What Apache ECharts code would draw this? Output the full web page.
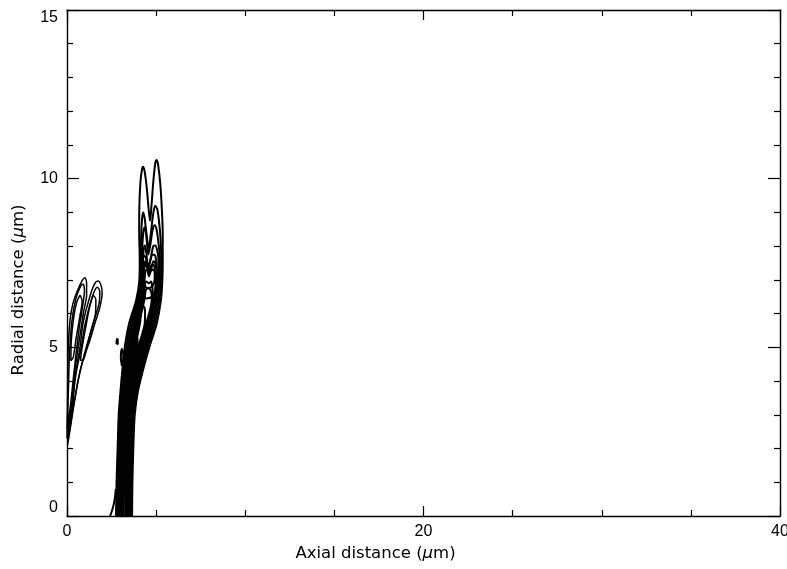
<!DOCTYPE html>
<html>
<head>
<meta charset="utf-8">
<script src="https://cdn.jsdelivr.net/npm/echarts@6/dist/echarts.min.js"></script>
<style>
  html, body { margin: 0; padding: 0; background: #ffffff; }
  #chart { width: 787px; height: 569px; }
</style>
</head>
<body>
<div id="chart"></div>
<script>
// Axis extents and tick steps (µm)
const xRange = [0, 40];
const yRange = [0, 15];
const xMajorStep = 20;
const yMajorStep = 5;
const xName = 'Axial distance ({mu|μ}m)';
const yName = 'Radial distance ({mu|μ}m)';

// Radial heights at which the flanks of the main jet contours are sampled
const jetHeights = [0, 1, 2, 3, 3.7, 4.3, 5.0, 5.7, 6.4, 7.0, 7.6];

// Main jet, outermost level first.
// left/right = axial position of each flank at jetHeights; crown = points across the top
const jetLeft1  = [2.75, 2.78, 2.84, 2.90, 3.00, 3.10, 3.24, 3.48, 3.88, 4.06, 4.08];
const jetRight1 = [3.65, 3.67, 3.72, 3.80, 3.98, 4.25, 4.62, 5.03, 5.27, 5.35, 5.37];
const jetCrown1 = [[4.05, 8.4], [4.06, 9.2], [4.12, 9.9], [4.2, 10.25], [4.27, 10.35], [4.36, 10.2],
                   [4.48, 9.7], [4.58, 9.1], [4.66, 8.75], [4.74, 9.2], [4.84, 9.9], [4.95, 10.45],
                   [5.03, 10.55], [5.12, 10.38], [5.24, 9.8], [5.32, 9.1], [5.37, 8.4]];

const jetLeft2  = [2.80, 2.83, 2.89, 2.96, 3.06, 3.17, 3.32, 3.57, 3.96, 4.12, 4.14];
const jetRight2 = [3.61, 3.63, 3.68, 3.75, 3.92, 4.17, 4.53, 4.93, 5.18, 5.27, 5.29];
const jetCrown2 = [[4.16, 8.3], [4.21, 8.8], [4.27, 9.0], [4.35, 8.85], [4.45, 8.4], [4.58, 7.95],
                   [4.7, 8.35], [4.82, 8.9], [4.95, 9.2], [5.06, 9.1], [5.16, 8.75], [5.25, 8.2]];

const jetLeft3  = [2.85, 2.88, 2.94, 3.02, 3.12, 3.24, 3.40, 3.66, 4.03, 4.17, 4.20];
const jetRight3 = [3.57, 3.59, 3.64, 3.70, 3.86, 4.10, 4.45, 4.84, 5.09, 5.19, 5.21];
const jetCrown3 = [[4.23, 8.05], [4.29, 8.45], [4.36, 8.55], [4.45, 8.3], [4.56, 7.75], [4.68, 8.05],
                   [4.81, 8.5], [4.92, 8.62], [5.03, 8.48], [5.14, 8.05]];

const jetLeft4  = [2.90, 2.93, 2.99, 3.07, 3.18, 3.31, 3.48, 3.75, 4.10, 4.23, 4.27];
const jetRight4 = [3.53, 3.55, 3.60, 3.66, 3.81, 4.03, 4.37, 4.75, 5.00, 5.11, 5.13];
const jetCrown4 = [[4.3, 7.9], [4.37, 8.02], [4.45, 7.8], [4.56, 7.35], [4.7, 7.65], [4.84, 8.0],
                   [4.95, 8.02], [5.07, 7.85]];

const jetLeft5  = [2.95, 2.98, 3.04, 3.12, 3.23, 3.37, 3.55, 3.81, 4.16, 4.29];
const jetRight5 = [3.48, 3.50, 3.55, 3.61, 3.75, 3.96, 4.29, 4.67, 4.93, 5.04];
const jetCrown5 = [[4.33, 7.4], [4.4, 7.55], [4.5, 7.35], [4.6, 7.1], [4.72, 7.3], [4.85, 7.55],
                   [4.95, 7.5], [5.02, 7.3]];

const jetLeft6  = [2.99, 3.02, 3.08, 3.16, 3.28, 3.43, 3.62, 3.88, 4.22, 4.35];
const jetRight6 = [3.44, 3.46, 3.51, 3.57, 3.70, 3.90, 4.21, 4.59, 4.87, 4.98];
const jetCrown6 = [[4.4, 7.25], [4.5, 7.3], [4.6, 7.2], [4.72, 7.28], [4.85, 7.3], [4.95, 7.2]];

const jetLeft7  = [3.04, 3.07, 3.12, 3.20, 3.33, 3.49, 3.69, 3.95, 4.28];
const jetRight7 = [3.40, 3.42, 3.47, 3.53, 3.65, 3.84, 4.13, 4.51, 4.81];
const jetCrown7 = [[4.35, 6.8], [4.45, 6.95], [4.6, 6.9], [4.72, 6.95], [4.8, 6.7]];

const jetLeft8  = [3.08, 3.11, 3.16, 3.24, 3.37, 3.54, 3.75, 4.02, 4.34];
const jetRight8 = [3.36, 3.38, 3.43, 3.49, 3.60, 3.78, 4.06, 4.44, 4.75];
const jetCrown8 = [[4.42, 6.7], [4.55, 6.75], [4.68, 6.7], [4.75, 6.55]];

const jetLeft9  = [3.12, 3.15, 3.20, 3.28, 3.42, 3.60, 3.82, 4.09];
const jetRight9 = [3.32, 3.34, 3.39, 3.45, 3.55, 3.72, 3.99, 4.36];
const jetCrown9 = [[4.2, 6.15], [4.32, 6.2], [4.38, 6.0]];

const jetLeft10  = [3.16, 3.19, 3.24, 3.32, 3.46, 3.65, 3.88];
const jetRight10 = [3.28, 3.30, 3.35, 3.41, 3.50, 3.66, 3.92];
const jetCrown10 = [[3.95, 5.3], [3.96, 5.15]];

// Closed cells packed into the shoulder of the jet, below the two fingers
const jetCellA = [[4.2, 6.7], [4.22, 7.3], [4.3, 7.72], [4.42, 7.66], [4.55, 7.4], [4.66, 7.55],
                  [4.8, 7.75], [4.95, 7.72], [5.03, 7.3], [4.98, 6.75], [4.75, 6.5], [4.45, 6.45], [4.2, 6.7]];
const jetCellB = [[4.3, 6.9], [4.33, 7.35], [4.45, 7.45], [4.58, 7.25], [4.72, 7.42], [4.88, 7.45],
                  [4.92, 7.05], [4.8, 6.82], [4.52, 6.75], [4.3, 6.9]];

// Small isolated contours around the jet
const jetFoot   = [[2.42, 0], [2.55, 0.2], [2.66, 0.45], [2.74, 0.8]];
const jetSpeck  = [[2.78, 5.1], [2.79, 5.25], [2.84, 5.24], [2.85, 5.1], [2.78, 5.1]];
const jetBulge  = [[3.08, 4.45], [3.02, 4.7], [3.08, 4.95], [3.16, 4.8], [3.14, 4.5], [3.08, 4.45]];

// Twin lobes near the axis (x ≈ 0–2 µm)
const lobeLeftOuter  = [[0.0, 2.3], [0.03, 3.5], [0.06, 4.83], [0.17, 5.81], [0.34, 6.31], [0.62, 6.72],
                        [0.85, 6.98], [1.01, 7.06], [1.1, 6.9], [1.1, 6.55], [0.95, 6.1], [0.8, 5.6],
                        [0.6, 4.9], [0.45, 4.33], [0.28, 3.4], [0.12, 2.75], [0.0, 2.3]];
const lobeLeftMid    = [[0.02, 2.6], [0.08, 3.8], [0.15, 4.9], [0.28, 5.8], [0.5, 6.45], [0.75, 6.8],
                        [0.9, 6.88], [0.98, 6.7], [0.9, 6.3], [0.72, 5.7], [0.55, 5.0], [0.38, 4.2],
                        [0.2, 3.3], [0.02, 2.6]];
const lobeLeftInner  = [[0.73, 6.55], [0.85, 6.38], [0.72, 5.9], [0.52, 5.3], [0.35, 4.7], [0.22, 4.6],
                        [0.24, 5.2], [0.38, 5.9], [0.55, 6.35], [0.73, 6.55]];
const lobeRightOuter = [[0.03, 2.1], [0.12, 2.6], [0.28, 3.14], [0.45, 4.12], [0.73, 5.01], [0.9, 5.72],
                        [1.12, 6.2], [1.40, 6.70], [1.6, 6.93], [1.76, 6.97], [1.93, 6.8], [1.97, 6.6],
                        [1.85, 6.2], [1.57, 5.72], [1.29, 5.22], [0.9, 4.62], [0.62, 4.03], [0.34, 3.14],
                        [0.17, 2.55], [0.03, 2.1]];
const lobeRightMid   = [[0.1, 2.4], [0.3, 3.3], [0.5, 4.2], [0.8, 5.0], [1.0, 5.65], [1.25, 6.2],
                        [1.5, 6.62], [1.7, 6.78], [1.84, 6.65], [1.8, 6.3], [1.55, 5.85], [1.25, 5.3],
                        [0.95, 4.75], [0.7, 4.2], [0.45, 3.5], [0.25, 2.9], [0.1, 2.4]];
const lobeRightInner = [[1.46, 6.55], [1.62, 6.42], [1.6, 6.0], [1.4, 5.6], [1.15, 5.1], [0.9, 4.62],
                        [0.75, 4.62], [0.85, 5.0], [1.05, 5.6], [1.25, 6.15], [1.46, 6.55]];
const lobeSpeck      = [[0.75, 5.95], [0.78, 6.05], [0.82, 6.0], [0.8, 5.9], [0.75, 5.95]];

// Join a jet level into one closed contour: up the left flank, over the crown, down the right flank
function jetLevel(left, right, crown) {
  const pts = [];
  left.forEach((x, i) => pts.push([x, jetHeights[i]]));
  crown.forEach(p => pts.push(p));
  for (let i = right.length - 1; i >= 0; i--) pts.push([right[i], jetHeights[i]]);
  return pts;
}

const jetContours = [
  jetLevel(jetLeft1, jetRight1, jetCrown1),
  jetLevel(jetLeft2, jetRight2, jetCrown2),
  jetLevel(jetLeft3, jetRight3, jetCrown3),
  jetLevel(jetLeft4, jetRight4, jetCrown4),
  jetLevel(jetLeft5, jetRight5, jetCrown5),
  jetLevel(jetLeft6, jetRight6, jetCrown6),
  jetLevel(jetLeft7, jetRight7, jetCrown7),
  jetLevel(jetLeft8, jetRight8, jetCrown8),
  jetLevel(jetLeft9, jetRight9, jetCrown9),
  jetLevel(jetLeft10, jetRight10, jetCrown10),
  jetCellA, jetCellB,
  jetFoot, jetSpeck, jetBulge
];
const lobeContours = [
  lobeLeftOuter, lobeLeftMid, lobeLeftInner,
  lobeRightOuter, lobeRightMid, lobeRightInner, lobeSpeck
];

const ink = '#000000';
const labelFont = 'Liberation Sans';
const titleFont = 'DejaVu Sans';

function frameAxis(extra) {
  return Object.assign({
    type: 'value',
    axisLine: { show: true, onZero: false, lineStyle: { color: ink, width: 1.4 } },
    splitLine: { show: false },
    minorSplitLine: { show: false }
  }, extra);
}

const titleStyle = (pad) => ({
  color: ink, fontSize: 16.5, fontFamily: titleFont, padding: pad,
  rich: { mu: { fontStyle: 'italic', fontSize: 16.5, fontFamily: titleFont, color: ink } }
});

const xTicks = {
  axisTick: { show: true, inside: true, length: 10, lineStyle: { color: ink, width: 1.2 } },
  minorTick: { show: true, splitNumber: 4, length: 6, lineStyle: { color: ink, width: 1.2 } }
};
const yTicks = {
  axisTick: { show: true, inside: true, length: 12, lineStyle: { color: ink, width: 1.2 } },
  minorTick: { show: true, splitNumber: 5, length: 6, lineStyle: { color: ink, width: 1.2 } }
};

const chart = echarts.init(document.getElementById('chart'), null, { renderer: 'canvas' });
chart.setOption({
  animation: false,
  backgroundColor: '#ffffff',
  grid: { left: 67, right: 7, top: 10, bottom: 53, containLabel: false, outerBoundsMode: 'none' },
  xAxis: [
    frameAxis(Object.assign({
      position: 'bottom', min: xRange[0], max: xRange[1], interval: xMajorStep,
      axisLabel: { color: ink, fontSize: 16, fontFamily: labelFont, margin: 8 },
      name: xName, nameLocation: 'middle', nameGap: 27,
      nameTextStyle: titleStyle([0, 96, 0, 0])
    }, xTicks)),
    frameAxis(Object.assign({
      position: 'top', min: xRange[0], max: xRange[1], interval: xMajorStep,
      axisLabel: { show: false }
    }, xTicks))
  ],
  yAxis: [
    frameAxis(Object.assign({
      position: 'left', min: yRange[0], max: yRange[1], interval: yMajorStep,
      axisLabel: { color: ink, fontSize: 16, fontFamily: labelFont, margin: 9,
                   verticalAlignMinLabel: 'bottom', verticalAlignMaxLabel: 'top' },
      name: yName, nameLocation: 'middle', nameGap: 40,
      nameTextStyle: titleStyle([0, 54, 0, 0])
    }, yTicks)),
    frameAxis(Object.assign({
      position: 'right', min: yRange[0], max: yRange[1], interval: yMajorStep,
      axisLabel: { show: false }
    }, yTicks))
  ],
  series: jetContours.map(pts => ({
    type: 'line', xAxisIndex: 0, yAxisIndex: 0, data: pts,
    smooth: 0.3, showSymbol: false, symbol: 'none', silent: true,
    lineStyle: { color: ink, width: 2.0 }
  })).concat(lobeContours.map(pts => ({
    type: 'line', xAxisIndex: 0, yAxisIndex: 0, data: pts,
    smooth: 0.3, showSymbol: false, symbol: 'none', silent: true,
    lineStyle: { color: ink, width: 1.5 }
  })))
});
</script>
</body>
</html>
